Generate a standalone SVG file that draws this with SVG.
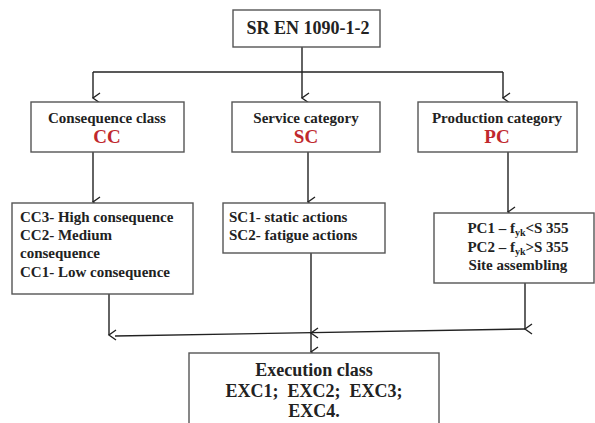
<svg xmlns="http://www.w3.org/2000/svg" width="595" height="423" viewBox="0 0 595 423">
<defs>
<marker id="arr" markerWidth="12" markerHeight="12" refX="6" refY="10" orient="auto" markerUnits="userSpaceOnUse" viewBox="0 0 12 12">
<path d="M1,3 L6,10 L11,3" fill="none" stroke="#222" stroke-width="1.4"/>
</marker>
</defs>
<style>
.box{fill:#fff;stroke:#555;stroke-width:1.4}
.ln{fill:none;stroke:#222;stroke-width:1.4}
</style>
<rect width="595" height="423" fill="#fff"/>
<g id="connectors">
<line class="ln" x1="302" y1="47" x2="302" y2="72"/>
<line class="ln" x1="93" y1="72" x2="503" y2="72"/>
<line class="ln" x1="93" y1="72" x2="93" y2="98" marker-end="url(#arr)"/>
<line class="ln" x1="302" y1="72" x2="302" y2="98" marker-end="url(#arr)"/>
<line class="ln" x1="503" y1="72" x2="503" y2="98" marker-end="url(#arr)"/>
<line class="ln" x1="93" y1="152" x2="93" y2="202" marker-end="url(#arr)"/>
<line class="ln" x1="308" y1="152" x2="308" y2="202" marker-end="url(#arr)"/>
<line class="ln" x1="508" y1="152" x2="508" y2="212" marker-end="url(#arr)"/>
<line class="ln" x1="109" y1="294" x2="109" y2="335" marker-end="url(#arr)"/>
<line class="ln" x1="311" y1="253" x2="311" y2="333" marker-end="url(#arr)"/>
<line class="ln" x1="525" y1="283" x2="525" y2="329" marker-end="url(#arr)"/>
<line class="ln" x1="115" y1="336" x2="525" y2="329"/>
<line class="ln" x1="311" y1="333" x2="311" y2="352" marker-end="url(#arr)"/>
</g>
<g id="n-top">
<rect class="box" x="233" y="10" width="147" height="37"/>
<text x="308" y="34" font-family="Liberation Serif" font-weight="bold" fill="#222" font-size="18" text-anchor="middle">SR EN 1090-1-2</text>
</g>
<g id="n-cc">
<rect class="box" x="31" y="102" width="153" height="50"/>
<text x="107" y="123" font-family="Liberation Serif" font-weight="bold" fill="#222" font-size="15" text-anchor="middle">Consequence class</text>
<text x="107" y="143" font-family="Liberation Serif" font-weight="bold" fill="#c0282d" font-size="19" text-anchor="middle">CC</text>
</g>
<g id="n-sc">
<rect class="box" x="232" y="102" width="148" height="50"/>
<text x="306" y="123" font-family="Liberation Serif" font-weight="bold" fill="#222" font-size="15" text-anchor="middle">Service category</text>
<text x="306" y="143" font-family="Liberation Serif" font-weight="bold" fill="#c0282d" font-size="19" text-anchor="middle">SC</text>
</g>
<g id="n-pc">
<rect class="box" x="418" y="102" width="159" height="50"/>
<text x="497" y="123" font-family="Liberation Serif" font-weight="bold" fill="#222" font-size="15" text-anchor="middle">Production category</text>
<text x="497" y="143" font-family="Liberation Serif" font-weight="bold" fill="#c0282d" font-size="19" text-anchor="middle">PC</text>
</g>
<g id="n-cclist">
<rect class="box" x="12" y="203" width="181" height="91"/>
<text x="20" y="222" font-family="Liberation Serif" font-weight="bold" fill="#222" font-size="15">CC3- High consequence</text>
<text x="20" y="240" font-family="Liberation Serif" font-weight="bold" fill="#222" font-size="15">CC2- Medium</text>
<text x="20" y="258" font-family="Liberation Serif" font-weight="bold" fill="#222" font-size="15">consequence</text>
<text x="20" y="277" font-family="Liberation Serif" font-weight="bold" fill="#222" font-size="15">CC1- Low consequence</text>
</g>
<g id="n-sclist">
<rect class="box" x="223" y="203" width="162" height="50"/>
<text x="229" y="222" font-family="Liberation Serif" font-weight="bold" fill="#222" font-size="15">SC1- static actions</text>
<text x="229" y="240" font-family="Liberation Serif" font-weight="bold" fill="#222" font-size="15">SC2- fatigue actions</text>
</g>
<g id="n-pclist">
<rect class="box" x="434" y="213" width="160" height="70"/>
<text x="518" y="233" font-family="Liberation Serif" font-weight="bold" fill="#222" font-size="15" text-anchor="middle">PC1 – f<tspan font-size="10" dy="3">yk</tspan><tspan dy="-3">&lt;S 355</tspan></text>
<text x="518" y="252" font-family="Liberation Serif" font-weight="bold" fill="#222" font-size="15" text-anchor="middle">PC2 – f<tspan font-size="10" dy="3">yk</tspan><tspan dy="-3">&gt;S 355</tspan></text>
<text x="518" y="270" font-family="Liberation Serif" font-weight="bold" fill="#222" font-size="15" text-anchor="middle">Site assembling</text>
</g>
<g id="n-exc">
<rect class="box" x="189" y="353" width="250" height="80"/>
<text x="314" y="376" font-family="Liberation Serif" font-weight="bold" fill="#222" font-size="18" text-anchor="middle">Execution class</text>
<text x="314" y="397" font-family="Liberation Serif" font-weight="bold" fill="#222" font-size="18" text-anchor="middle" xml:space="preserve">EXC1;  EXC2;  EXC3;</text>
<text x="314" y="417" font-family="Liberation Serif" font-weight="bold" fill="#222" font-size="18" text-anchor="middle">EXC4.</text>
</g>
</svg>
